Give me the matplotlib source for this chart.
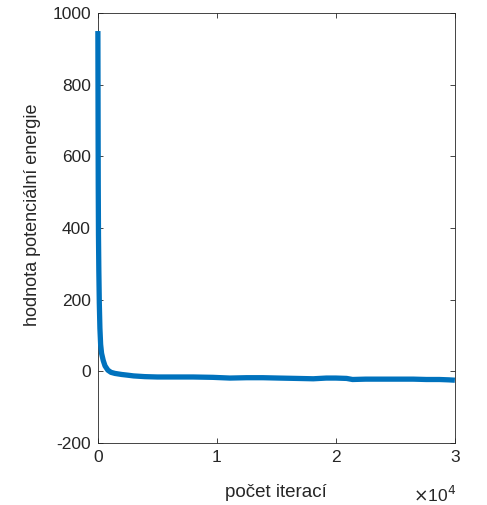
import numpy as np
import matplotlib
matplotlib.use("Agg")
import matplotlib.pyplot as plt

# hodnoty
iterace = [0, 10, 20, 30, 50, 80, 120, 170, 230, 310, 450, 600, 840, 1100, 1430,
           2000, 2520, 3000, 3950, 5000, 6890, 8000, 9660, 11100, 12500, 13860,
           15200, 16700, 18100, 19200, 20000, 20900, 21400, 22500, 23700, 25000,
           26500, 27600, 28700, 29500, 30000]
energie = [950, 800, 650, 520, 380, 280, 190, 120, 75, 50, 30, 15, 3, -3, -6,
           -9, -11, -13, -15, -16, -16, -16, -17, -19, -18, -18,
           -19, -20, -21, -19, -19, -20, -23, -22, -22, -22,
           -22, -23, -23, -24, -25]

x_ticks = [0, 10000, 20000, 30000]
x_labels = ['0', '1', '2', '3']
y_ticks = [-200, 0, 200, 400, 600, 800, 1000]

plt.rcParams['font.family'] = ['Liberation Sans', 'DejaVu Sans']
plt.rcParams['font.size'] = 12.5
plt.rcParams['axes.unicode_minus'] = False
txt = '#262626'

fig = plt.figure(figsize=(4.87, 5.05), dpi=100)
ax = fig.add_axes([0.201, 0.123, 0.733, 0.851])
ax.plot(iterace, energie, color='#0072BD', lw=3.8, solid_joinstyle='round',
        solid_capstyle='butt', clip_on=False, zorder=3)

ax.set_xlim(0, 30000)
ax.set_ylim(-200, 1000)
ax.set_xticks(x_ticks)
ax.set_xticklabels(x_labels)
ax.set_yticks(y_ticks)
ax.tick_params(direction='in', length=3.5, width=0.6, colors=txt,
               top=True, right=True, labelsize=12.5, pad=5)
for s in ax.spines.values():
    s.set_color(txt)
    s.set_linewidth(0.6)

ax.set_xlabel('počet iterací', color=txt, fontsize=13.5)
ax.set_ylabel('hodnota potenciální energie', color=txt, fontsize=13)
ax.xaxis.set_label_coords(0.5, -0.095)
ax.yaxis.set_label_coords(-0.16, 0.53)
fig.text(0.893, 0.0, r'$\times$10$^4$', color=txt, fontsize=12.5,
         ha='center', va='bottom')

fig.savefig('out.png', dpi=100, facecolor='white')
